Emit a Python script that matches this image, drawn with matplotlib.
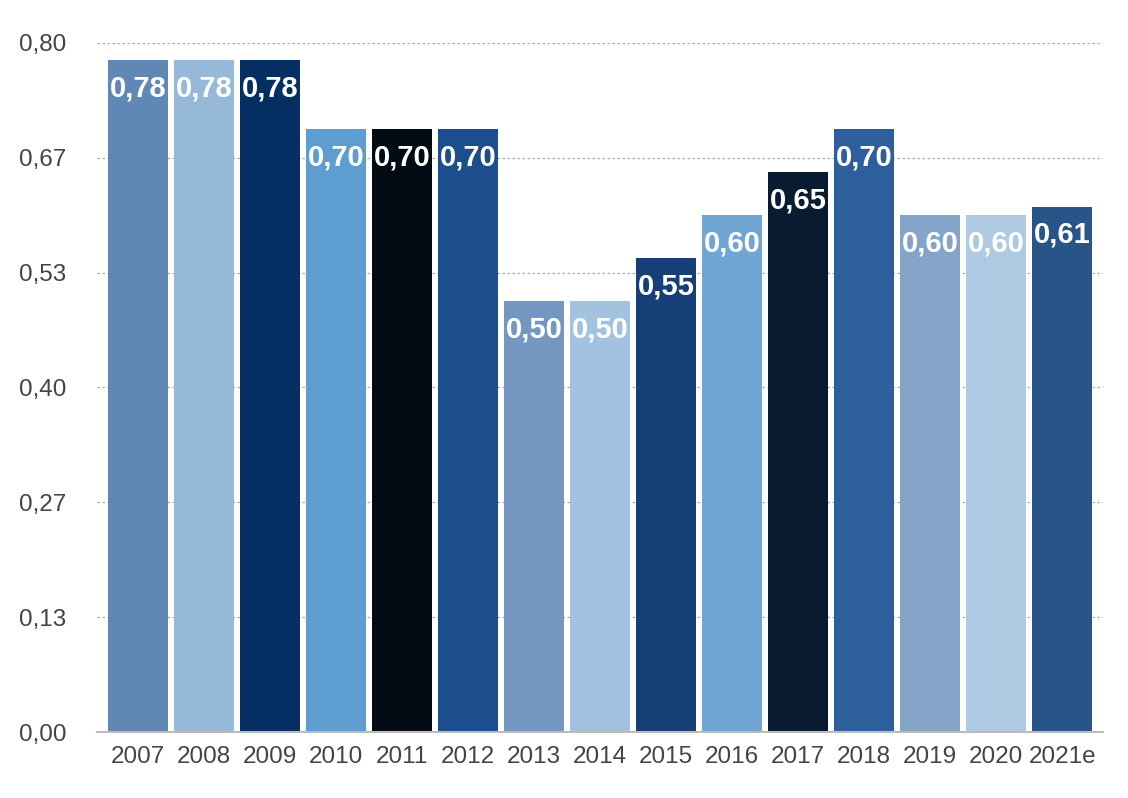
import matplotlib
matplotlib.use("Agg")
import matplotlib.pyplot as plt
import numpy as np

years = ["2007", "2008", "2009", "2010", "2011", "2012", "2013", "2014",
         "2015", "2016", "2017", "2018", "2019", "2020", "2021e"]
values = [0.78, 0.78, 0.78, 0.70, 0.70, 0.70, 0.50, 0.50,
          0.55, 0.60, 0.65, 0.70, 0.60, 0.60, 0.61]
colors = ["#5f88b4", "#96b9da", "#052e62", "#5e9dd0", "#020a14", "#1c4d8c",
          "#7397c0", "#a3c2df", "#173f77", "#70a6d4", "#081b30", "#2d5f9c",
          "#84a4c9", "#aecae2", "#285488"]
yticks = [0, 0.8 / 6, 1.6 / 6, 0.4, 3.2 / 6, 4.0 / 6, 0.8]

plt.rcParams['font.family'] = ['Liberation Sans', 'DejaVu Sans']

fig = plt.figure(figsize=(11.28, 7.98), dpi=100)
ax = fig.add_axes([97 / 1128, 66 / 798, (1103 - 97) / 1128, (732 - 43) / 798])

x = np.arange(len(years))
bars = ax.bar(x, values, width=60 / 66, color=colors, zorder=2)

for xi, v in zip(x, values):
    ax.annotate(f"{v:.2f}".replace('.', ','), xy=(xi, v), xytext=(0, -36),
                textcoords='offset pixels', ha='center', va='baseline',
                color='white', fontsize=21, fontweight='bold', zorder=3)

ax.set_xlim(-0.62, 14.62)
ax.set_ylim(0, 0.8)
ax.set_yticks(yticks)
ax.set_yticklabels([f"{t:.2f}".replace('.', ',') for t in yticks])
ax.set_xticks(x)
ax.set_xticklabels(years)
ax.tick_params(axis='both', length=0, labelsize=17.5, labelcolor='#444444')
ax.tick_params(axis='y', pad=22)
ax.tick_params(axis='x', pad=10)

ax.yaxis.grid(True, linestyle=(0, (2, 2)), color='#aaaaaa', linewidth=0.9, zorder=0)
ax.set_axisbelow(True)
for s in ['top', 'right', 'left']:
    ax.spines[s].set_visible(False)
ax.spines['bottom'].set_color('#bbbbbb')
ax.spines['bottom'].set_linewidth(1.5)
ax.spines['bottom'].set_zorder(4)

fig.savefig("out.png", dpi=100)
